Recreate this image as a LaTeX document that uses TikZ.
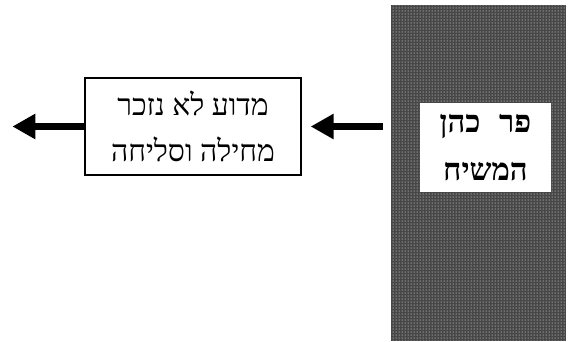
\documentclass[tikz,border=0pt]{standalone}
\usepackage{fontspec}
\usetikzlibrary{arrows.meta,patterns}
\TeXXeTstate=1
\newfontfamily\hebfont[Script=Hebrew]{Liberation Serif}
\begin{document}
\begin{tikzpicture}[x=1pt,y=-1pt,
  darkcol/.style={fill=black!72, postaction={pattern=dots, pattern color=white}, inner sep=0pt, anchor=north west},
  titlebox/.style={fill=white, minimum width=131pt, minimum height=89pt, inner sep=0pt, align=center,
     font=\hebfont\bfseries\fontsize{31}{48}\selectfont},
  qbox/.style={draw, line width=1.3pt, fill=white, minimum width=216pt, minimum height=97pt, inner sep=0pt, align=center,
     font=\hebfont\fontsize{30}{46}\selectfont},
  arr/.style={line width=7pt, -{Triangle[length=23pt,width=24pt]}}]
\useasboundingbox (0,0) rectangle (571,341);
\node[darkcol, minimum width=175pt, minimum height=336pt] (col) at (391,5) {};
\node[titlebox] (title) at (485.5,147.5) {\beginR פר\hspace{0.6em}כהן\endR\\\beginR המשיח\endR};
\node[qbox] (q) at (193,126.5) {\beginR מדוע לא נזכר\endR\\\beginR מחילה וסליחה\endR};
\draw[arr] ([xshift=-8pt]q.east -| col.west) -- ([xshift=9pt]q.east);
\draw[arr] (q.west) -- ([xshift=-72pt]q.west);
\end{tikzpicture}
\end{document}
